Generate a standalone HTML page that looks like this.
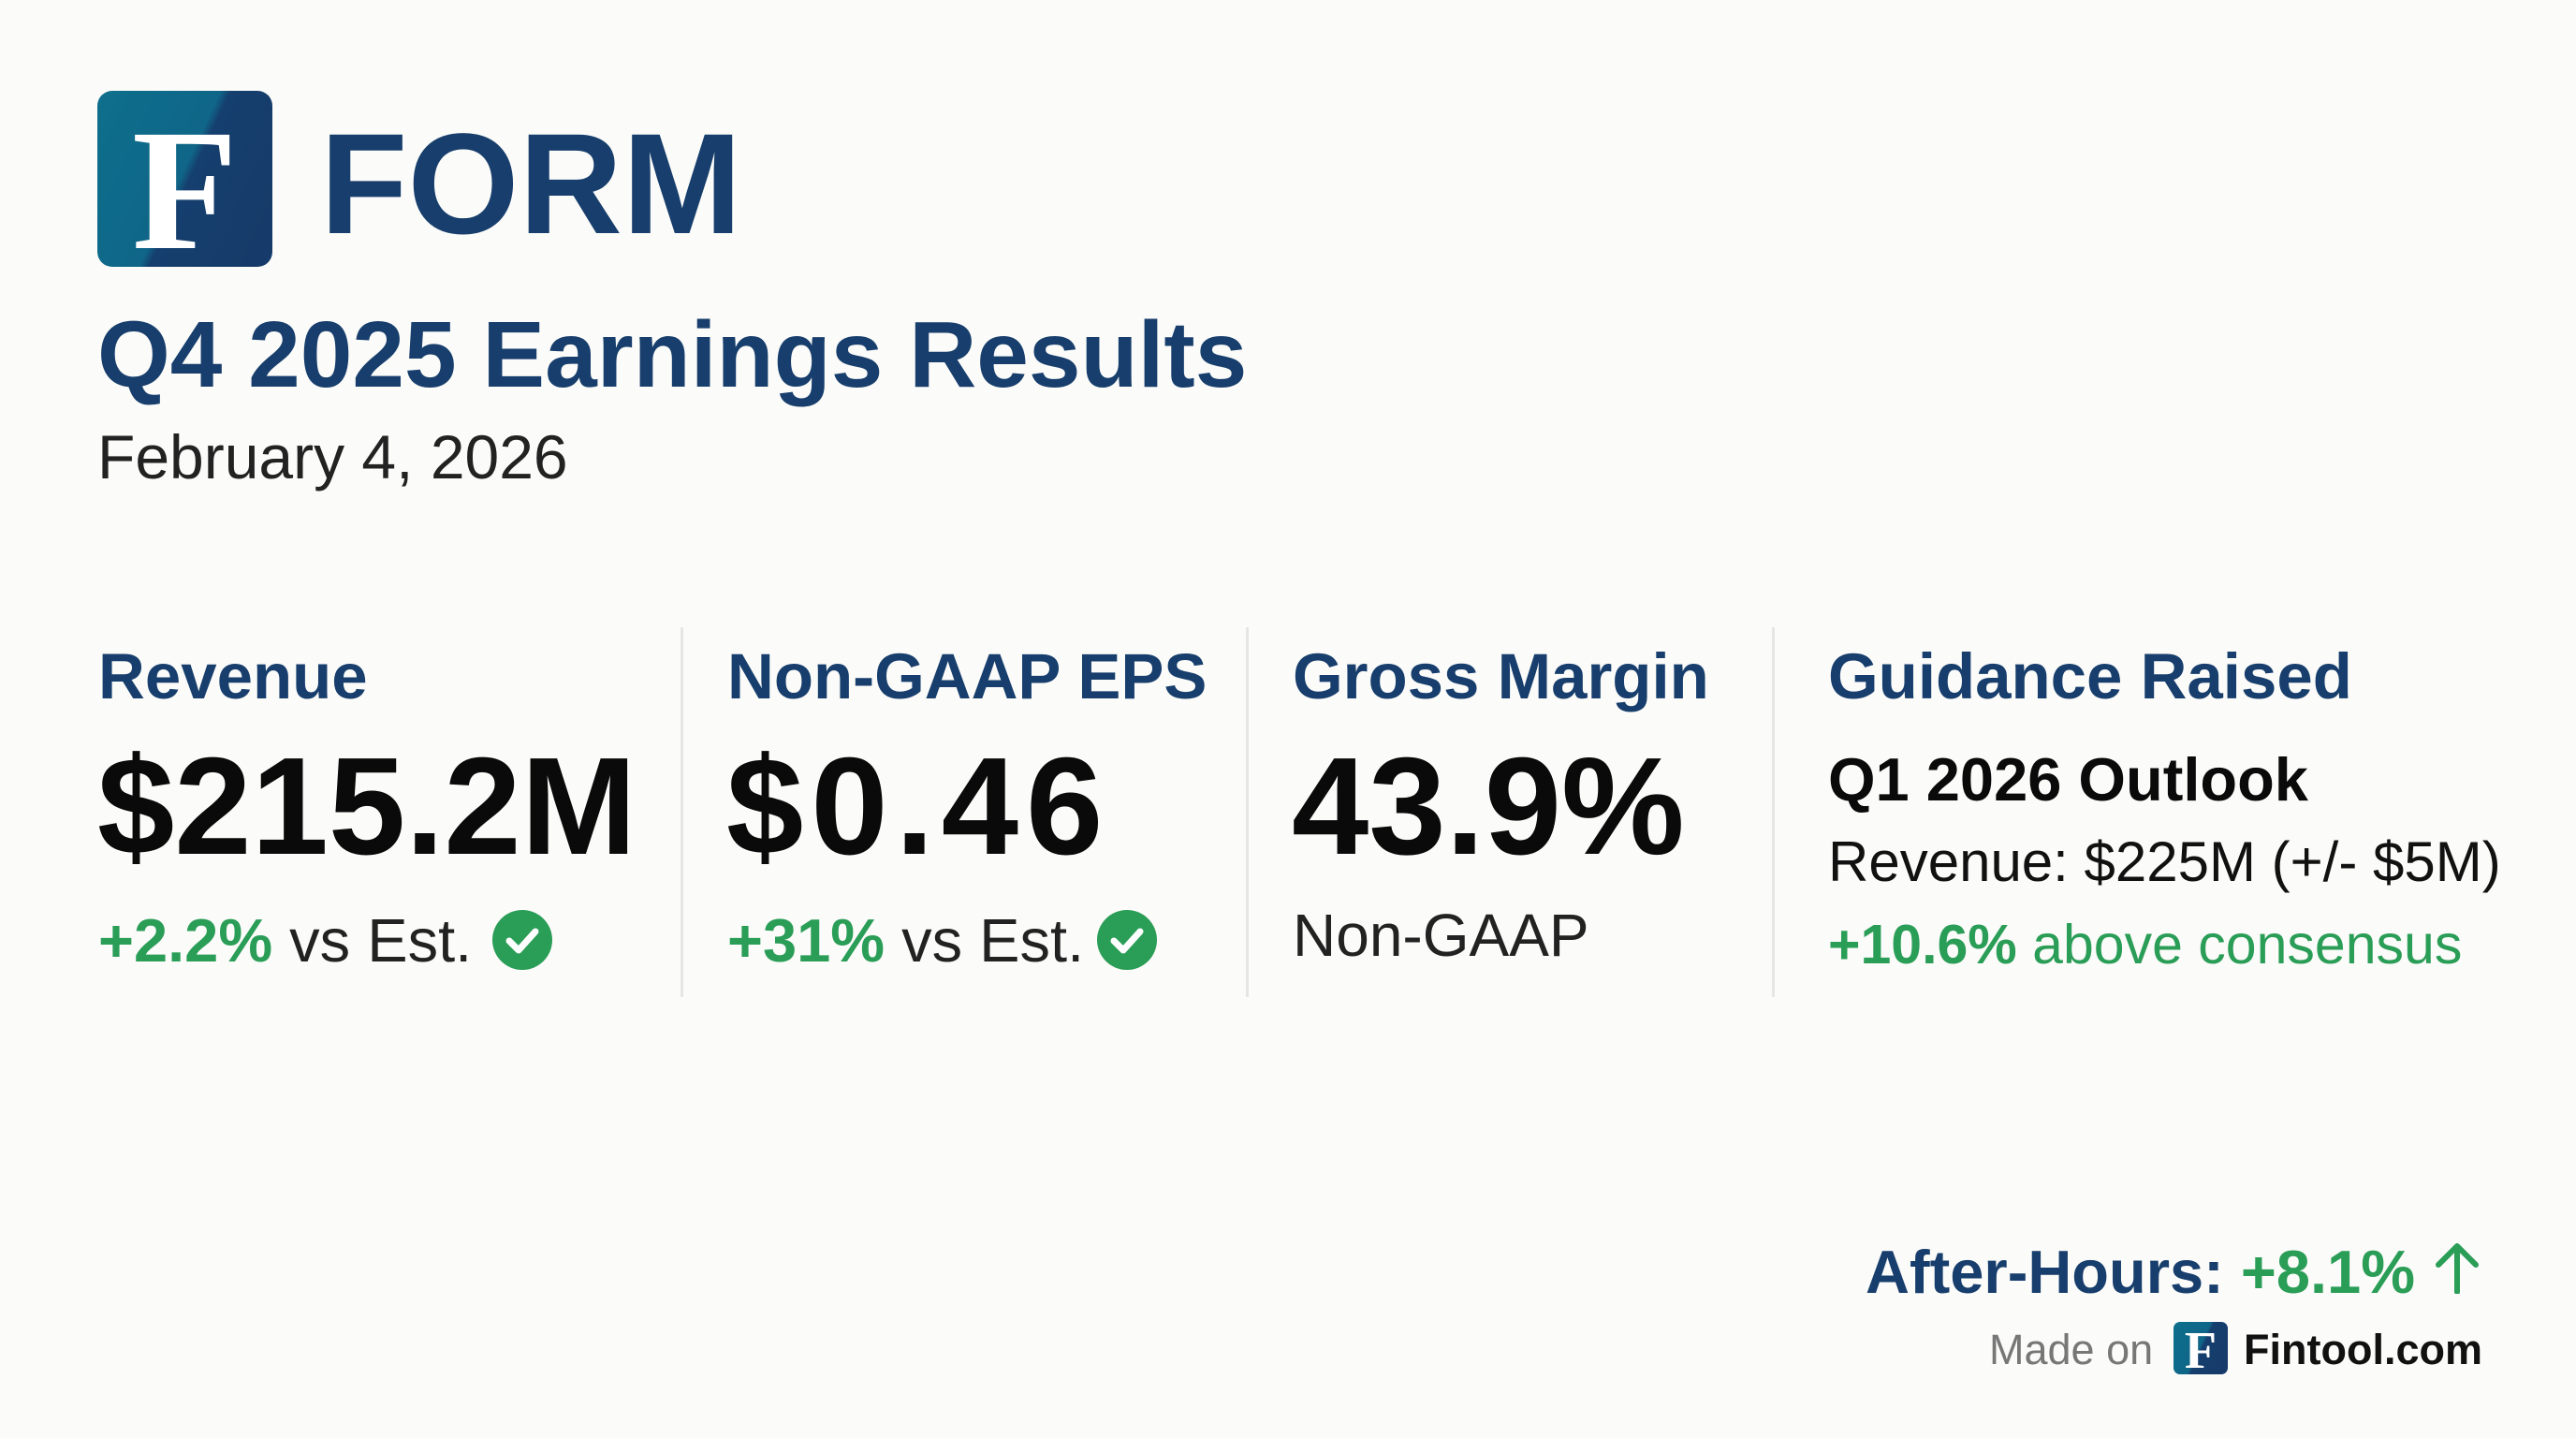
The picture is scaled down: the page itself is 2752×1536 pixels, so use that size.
<!DOCTYPE html>
<html><head><meta charset="utf-8"><style>
html,body{margin:0;padding:0}
body{width:2752px;height:1536px;background:#fbfbf9;position:relative;overflow:hidden;font-family:"Liberation Sans",Arial,sans-serif}
.t{position:absolute;white-space:nowrap;line-height:1}
.navy{color:#173e6c}
.green{color:#2a9d57}
.div{position:absolute;top:670px;width:3px;height:395px;background:#e6e6e4}
.logo{position:absolute;border-radius:16px;background:linear-gradient(115deg,#0e6f8c 0%,#0f6688 48%,#153f6e 52%,#163a69 100%);overflow:hidden}
.logo span{position:absolute;left:0;right:0;text-align:center;color:#fff;font-family:"Liberation Serif",serif;font-weight:bold;line-height:1}
</style></head><body>
<div class="logo" style="left:104px;top:97px;width:187px;height:188px"><span style="top:14px;font-size:185px">F</span></div>
<div class="t navy" style="left:342px;top:120px;font-size:153px;font-weight:bold">FORM</div>
<div class="t navy" style="left:104px;top:329px;font-size:100px;font-weight:bold">Q4 2025 Earnings Results</div>
<div class="t" style="left:104px;top:455px;font-size:66px;color:#222">February 4, 2026</div>

<div class="div" style="left:727px"></div>
<div class="div" style="left:1331px"></div>
<div class="div" style="left:1893px"></div>

<div class="t navy" style="left:105px;top:688px;font-size:69px;font-weight:bold">Revenue</div>
<div class="t" style="left:104px;top:788px;font-size:148px;font-weight:bold;color:#0a0a0a">$215.2M</div>
<div class="t" style="left:105px;top:972px;font-size:65px;color:#222"><b class="green">+2.2%</b> vs Est.</div>
<svg style="position:absolute;left:526px;top:972px" width="64" height="64" viewBox="0 0 64 64"><circle cx="32" cy="32" r="32" fill="#2a9d57"/><path d="M18 33 L28 43 L46 23" stroke="#fff" stroke-width="7" fill="none" stroke-linecap="round" stroke-linejoin="round"/></svg>

<div class="t navy" style="left:777px;top:688px;font-size:69px;font-weight:bold">Non-GAAP EPS</div>
<div class="t" style="left:776px;top:788px;font-size:148px;font-weight:bold;color:#0a0a0a;letter-spacing:8px">$0.46</div>
<div class="t" style="left:777px;top:972px;font-size:65px;color:#222"><b class="green">+31%</b> vs Est.</div>
<svg style="position:absolute;left:1172px;top:972px" width="64" height="64" viewBox="0 0 64 64"><circle cx="32" cy="32" r="32" fill="#2a9d57"/><path d="M18 33 L28 43 L46 23" stroke="#fff" stroke-width="7" fill="none" stroke-linecap="round" stroke-linejoin="round"/></svg>

<div class="t navy" style="left:1381px;top:688px;font-size:69px;font-weight:bold">Gross Margin</div>
<div class="t" style="left:1380px;top:788px;font-size:148px;font-weight:bold;color:#0a0a0a">43.9%</div>
<div class="t" style="left:1381px;top:967px;font-size:64px;color:#222">Non-GAAP</div>

<div class="t navy" style="left:1953px;top:688px;font-size:69px;font-weight:bold">Guidance Raised</div>
<div class="t" style="left:1953px;top:800px;font-size:65px;font-weight:bold;color:#0a0a0a">Q1 2026 Outlook</div>
<div class="t" style="left:1953px;top:891px;font-size:60px;color:#111">Revenue: $225M (+/- $5M)</div>
<div class="t green" style="left:1953px;top:980px;font-size:59px"><b>+10.6%</b> above consensus</div>

<div class="t" style="right:172px;top:1326px;font-size:65px;font-weight:bold"><span class="navy">After-Hours:</span> <span class="green">+8.1%</span></div>
<svg style="position:absolute;left:2600px;top:1326px" width="50" height="56" viewBox="0 0 50 56"><path d="M25 54 V5 M5 25 L25 5 L45 25" stroke="#2a9d57" stroke-width="6" fill="none" stroke-linecap="round" stroke-linejoin="round"/></svg>

<div class="t" style="left:2125px;top:1419px;font-size:45px;color:#777">Made on</div>
<div class="logo" style="left:2322px;top:1412px;width:58px;height:56px;border-radius:7px"><span style="top:3px;font-size:56px">F</span></div>
<div class="t" style="left:2397px;top:1419px;font-size:45px;font-weight:bold;color:#111">Fintool.com</div>
</body></html>
